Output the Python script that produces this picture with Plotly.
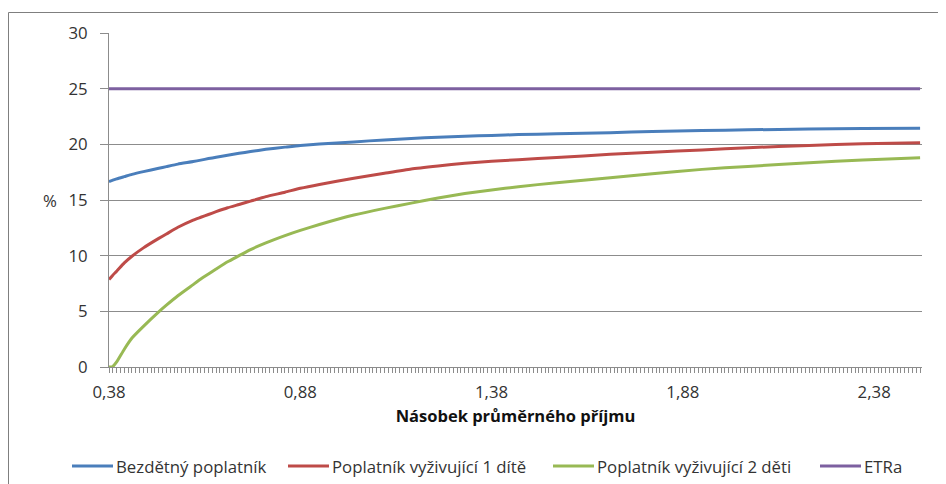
import plotly.graph_objects as go

# ---- data ----
x_vals = [0.38, 0.39, 0.40, 0.42, 0.44, 0.47, 0.51, 0.53, 0.56, 0.60, 0.62, 0.64, 0.66,
          0.69, 0.72, 0.75, 0.79, 0.84, 0.88, 0.93, 1.02, 1.10, 1.17, 1.24, 1.31,
          1.38, 1.45, 1.55, 1.69, 1.80, 1.93, 2.05, 2.21, 2.35, 2.50]

bezdetny = [16.65, 16.78, 16.9, 17.1, 17.3, 17.55, 17.85, 18.0, 18.22, 18.45, 18.58, 18.72, 18.84,
            19.02, 19.19, 19.35, 19.55, 19.75, 19.9, 20.02, 20.22, 20.4, 20.53, 20.64, 20.73,
            20.8, 20.88, 20.95, 21.05, 21.15, 21.25, 21.3, 21.38, 21.43, 21.45]

jedno_dite = [7.85, 8.25, 8.6, 9.35, 9.95, 10.7, 11.55, 11.95, 12.55, 13.2, 13.45, 13.7, 13.95,
              14.3, 14.6, 14.9, 15.3, 15.7, 16.05, 16.4, 16.95, 17.4, 17.78, 18.05, 18.3,
              18.47, 18.62, 18.82, 19.1, 19.3, 19.5, 19.7, 19.9, 20.05, 20.15]

dve_deti = [0.0, 0.05, 0.45, 1.6, 2.6, 3.65, 4.95, 5.55, 6.4, 7.4, 7.9, 8.35, 8.8,
            9.45, 10.0, 10.55, 11.15, 11.8, 12.27, 12.8, 13.65, 14.25, 14.72, 15.18, 15.58,
            15.9, 16.2, 16.55, 17.0, 17.35, 17.75, 18.02, 18.35, 18.6, 18.8]

etra = [25.0] * len(x_vals)

series_names = ["Bezdětný poplatník", "Poplatník vyživující 1 dítě",
                "Poplatník vyživující 2 děti", "ETRa"]
series_values = [bezdetny, jedno_dite, dve_deti, etra]
series_colors = ["#4A7EBB", "#BE4B48", "#98B954", "#7D60A0"]

x_tick_vals = [0.38, 0.88, 1.38, 1.88, 2.38]
x_tick_text = ["0,38", "0,88", "1,38", "1,88", "2,38"]
y_tick_vals = [0, 5, 10, 15, 20, 25, 30]

# ---- layout constants (page pixels of the reference) ----
FONT = "Open Sans"
GRID = "#8c8c8c"
TXT = "#333333"
FS = 16.8
OFF = 8                      # the page body adds an 8px margin around the figure
W, H = 946 - OFF, 484 - OFF
PL, PT, PW, PH = 109, 33, 813, 334    # plot area left/top/width/height on the page
ML, MT = PL - OFF, PT - OFF
MR, MB = W - ML - PW, H - MT - PH
PB = PT + PH


def px(xp):  # page x pixel -> paper coordinate
    return (xp - PL) / PW


def py(yp):  # page y pixel -> paper coordinate
    return (PB - yp) / PH


legend_line_starts = [72, 288, 553, 820]   # page x where each legend sample line begins
LEG_Y, LEG_LEN = 466, 41

fig = go.Figure()
for name, vals, col in zip(series_names, series_values, series_colors):
    fig.add_trace(go.Scatter(x=x_vals, y=vals, name=name, mode="lines", showlegend=False,
                             line=dict(color=col, width=3, shape="spline", smoothing=0.5)))

fig.update_layout(
    width=W, height=H, autosize=False,
    margin=dict(l=ML, r=MR, t=MT, b=MB),
    paper_bgcolor="white", plot_bgcolor="white",
    font=dict(family=FONT, size=FS, color=TXT),
    showlegend=False,
    xaxis=dict(range=[0.38, 2.505], tickvals=x_tick_vals, ticktext=x_tick_text,
               showgrid=False, zeroline=False, showline=True, linecolor=GRID, linewidth=1,
               ticks="outside", ticklen=5, tickcolor=GRID, ticklabelstandoff=5,
               minor=dict(dtick=0.01, tick0=0.38, ticks="outside", ticklen=5,
                          tickcolor=GRID, showgrid=False),
               tickfont=dict(size=FS, color=TXT),
               title=dict(text="<b>Násobek průměrného příjmu</b>", standoff=8,
                          font=dict(size=16.5, color="#111111"))),
    yaxis=dict(range=[0, 30], tickvals=y_tick_vals,
               showgrid=True, gridcolor=GRID, gridwidth=1, zeroline=False,
               showline=True, linecolor=GRID, linewidth=1,
               ticks="outside", ticklen=8, tickcolor=GRID, ticklabelstandoff=9,
               tickfont=dict(size=FS, color=TXT)),
)

fig.add_annotation(text="%", xref="paper", yref="y", x=px(50), y=15,
                   showarrow=False, xanchor="center", yanchor="middle",
                   font=dict(family=FONT, size=FS, color=TXT))

# legend drawn as sample lines + labels below the axis title
for name, col, x0 in zip(series_names, series_colors, legend_line_starts):
    fig.add_shape(type="line", xref="paper", yref="paper",
                  x0=px(x0), x1=px(x0 + LEG_LEN), y0=py(LEG_Y), y1=py(LEG_Y),
                  line=dict(color=col, width=3))
    fig.add_annotation(text=name, xref="paper", yref="paper",
                       x=px(x0 + LEG_LEN + 2), y=py(LEG_Y), showarrow=False,
                       xanchor="left", yanchor="middle", borderpad=0,
                       font=dict(family=FONT, size=FS, color=TXT))

# outer chart border: only its top and left edges fall inside the picture
BORDER = dict(color="#7f7f7f", width=1)
fig.add_shape(type="line", xref="paper", yref="paper",
              x0=px(8.5), x1=px(960), y0=py(12.5), y1=py(12.5), line=BORDER, layer="below")
fig.add_shape(type="line", xref="paper", yref="paper",
              x0=px(8.5), x1=px(8.5), y0=py(12.5), y1=py(500), line=BORDER, layer="below")

fig.write_html("out.html")
